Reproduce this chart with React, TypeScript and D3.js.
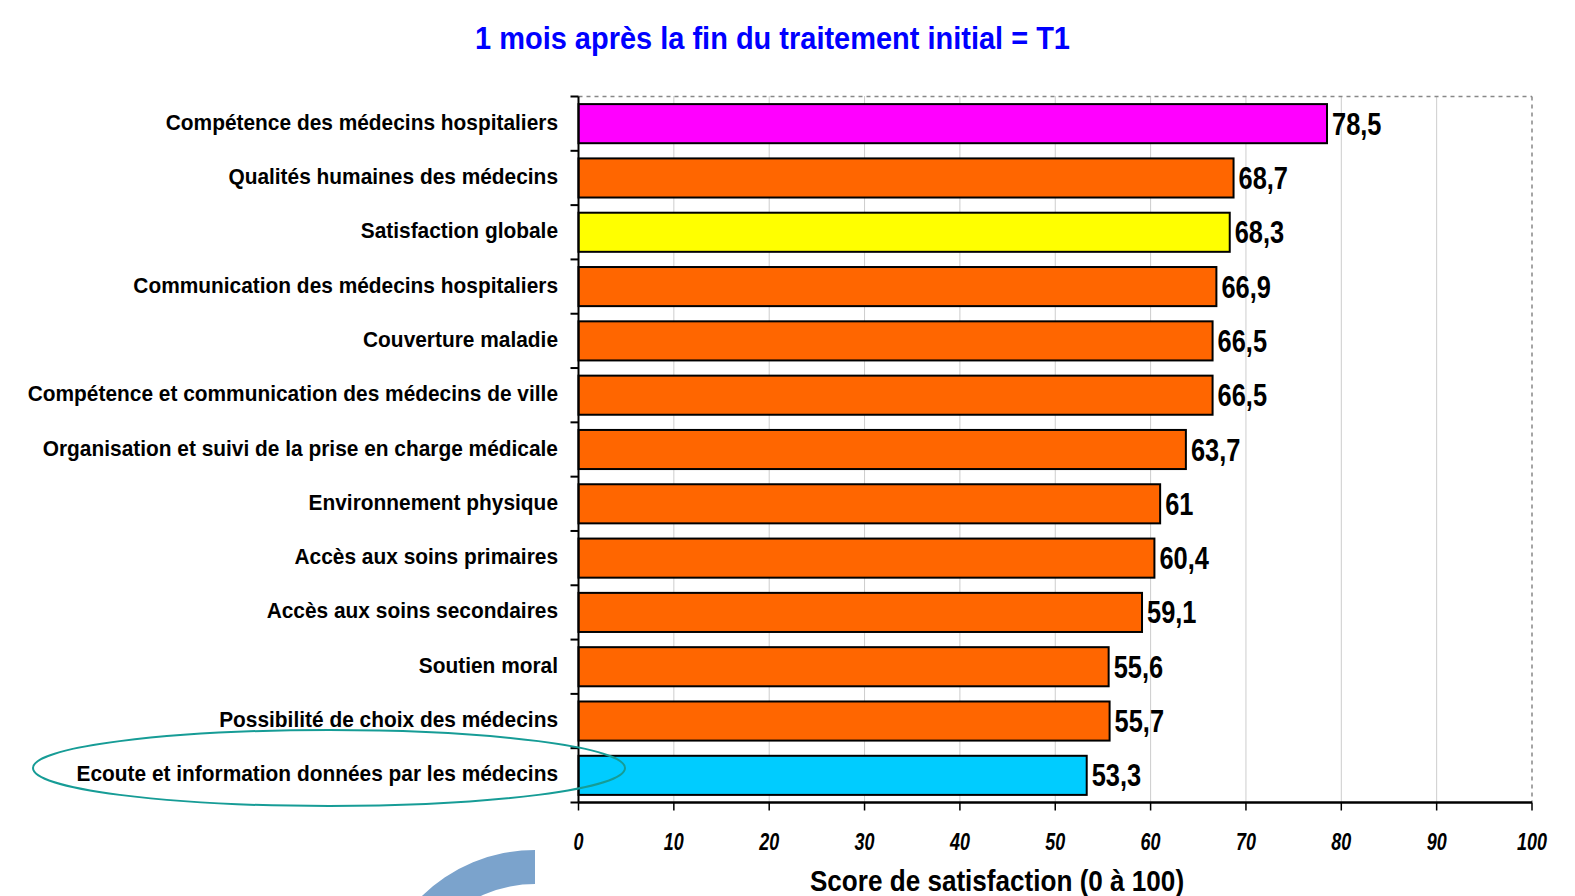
import React from "react";
import * as d3 from "d3";

const categories = [
  "Compétence des médecins hospitaliers",
  "Qualités humaines des médecins",
  "Satisfaction globale",
  "Communication des médecins hospitaliers",
  "Couverture maladie",
  "Compétence et communication des médecins de ville",
  "Organisation et suivi de la prise en charge médicale",
  "Environnement physique",
  "Accès aux soins primaires",
  "Accès aux soins secondaires",
  "Soutien moral",
  "Possibilité de choix des médecins",
  "Ecoute et information données par les médecins",
];

const scores = [78.5, 68.7, 68.3, 66.9, 66.5, 66.5, 63.7, 61, 60.4, 59.1, 55.6, 55.7, 53.3];

const xTicks = [0, 10, 20, 30, 40, 50, 60, 70, 80, 90, 100];

const highlight: Record<string, string> = {
  "Compétence des médecins hospitaliers": "#FF00FF",
  "Satisfaction globale": "#FFFF00",
  "Ecoute et information données par les médecins": "#00CCFF",
};

const W = 1575;
const H = 896;
const margin = { top: 96.5, right: 43, bottom: 93.5, left: 578.5 };

const sans = "'Liberation Sans', Arial, sans-serif";

const fmt = (v: number) => String(v).replace(".", ",");

export default function App() {
  const x = d3
    .scaleLinear()
    .domain([0, 100])
    .range([margin.left, W - margin.right]);

  const y = d3
    .scaleBand()
    .domain(categories)
    .range([margin.top, H - margin.bottom])
    .paddingInner(0.28)
    .paddingOuter(0.14);

  const step = y.step();
  const top = margin.top;
  const bottom = H - margin.bottom;

  // blue ring fragment at the bottom
  const ring = d3.arc()({
    innerRadius: 128,
    outerRadius: 162,
    startAngle: -Math.PI / 2,
    endAngle: 0,
  } as any);

  return (
    <div>
      <style>{`body{margin:0}`}</style>
      <svg width={W} height={H} style={{ display: "block", background: "#fff" }}>
        <text
          transform="translate(772.5,49) scale(0.935,1)"
          textAnchor="middle"
          fill="#0000FF"
          fontFamily={sans}
          fontWeight="bold"
          fontSize={31}
        >
          1 mois après la fin du traitement initial = T1
        </text>

        {/* grid */}
        {xTicks.slice(1, -1).map((t) => (
          <line
            key={t}
            x1={x(t)}
            x2={x(t)}
            y1={top}
            y2={bottom}
            stroke="#9a9a9a"
            strokeWidth={1}
            strokeDasharray="1 1"
          />
        ))}
        <line x1={x(0)} x2={x(100)} y1={top} y2={top} stroke="#888" strokeWidth={1.5} strokeDasharray="4 4" />
        <line x1={x(100)} x2={x(100)} y1={top} y2={bottom} stroke="#888" strokeWidth={1.5} strokeDasharray="4 4" />

        {/* bars */}
        {categories.map((c, i) => {
          const cy = (y(c) as number) + y.bandwidth() / 2;
          return (
            <g key={c}>
              <rect
                x={x(0)}
                y={y(c)}
                width={x(scores[i]) - x(0)}
                height={y.bandwidth()}
                fill={highlight[c] ?? "#FF6600"}
                stroke="#000"
                strokeWidth={2}
              />
              <text
                transform={`translate(${x(scores[i]) + 5},${cy + 11}) scale(0.82,1)`}
                fontFamily={sans}
                fontWeight="bold"
                fontSize={31}
                fill="#000"
              >
                {fmt(scores[i])}
              </text>
              <text
                transform={`translate(558,${cy + 6}) scale(0.95,1)`}
                textAnchor="end"
                fontFamily={sans}
                fontWeight="bold"
                fontSize={22}
                fill="#000"
              >
                {c}
              </text>
            </g>
          );
        })}

        {/* y axis */}
        <line x1={x(0)} x2={x(0)} y1={top} y2={bottom} stroke="#000" strokeWidth={2} />
        {d3.range(categories.length + 1).map((k) => (
          <line
            key={k}
            x1={x(0) - 8}
            x2={x(0)}
            y1={top + k * step}
            y2={top + k * step}
            stroke="#000"
            strokeWidth={2}
          />
        ))}

        {/* x axis */}
        <line x1={x(0)} x2={x(100)} y1={bottom} y2={bottom} stroke="#000" strokeWidth={2.5} />
        {xTicks.map((t) => (
          <g key={t}>
            <line x1={x(t)} x2={x(t)} y1={bottom} y2={bottom + 8} stroke="#000" strokeWidth={1.5} />
            <text
              transform={`translate(${x(t)},${bottom + 47}) scale(0.78,1)`}
              textAnchor="middle"
              fontFamily={sans}
              fontStyle="italic"
              fontWeight="bold"
              fontSize={23}
            >
              {t}
            </text>
          </g>
        ))}
        <text
          transform="translate(997,891) scale(0.9,1)"
          textAnchor="middle"
          fontFamily={sans}
          fontWeight="bold"
          fontSize={29}
        >
          Score de satisfaction (0 à 100)
        </text>

        {/* annotation ellipse */}
        <ellipse cx={329} cy={768} rx={296} ry={38} fill="none" stroke="#169c96" strokeWidth={2} />

        <path d={ring as string} transform="translate(535,1012)" fill="#7BA3CC" />
      </svg>
    </div>
  );
}
